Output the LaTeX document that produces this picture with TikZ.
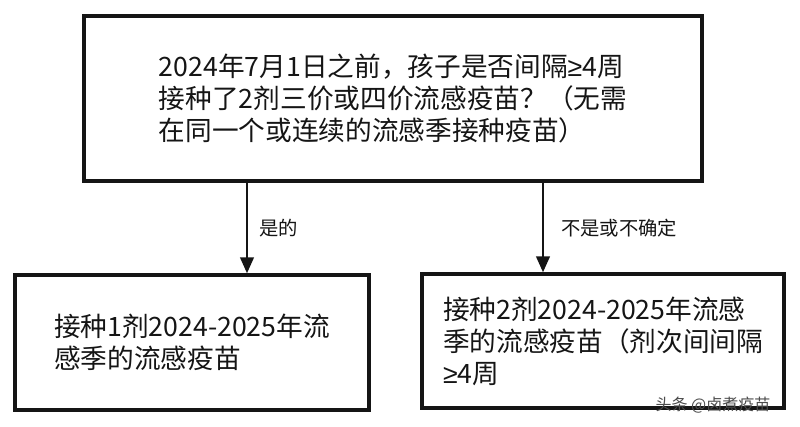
\documentclass[tikz,border=0pt]{standalone}
\usepackage{fontspec}
\setmainfont{Noto Sans CJK SC}
\newfontfamily\symf{Liberation Sans}
\usepackage{xcolor}
\usepackage{tikz}
\usetikzlibrary{arrows.meta,positioning,calc}
\definecolor{inkgray}{HTML}{151515}
\newcommand{\atleast}{{\symf ≥}}

\begin{document}
\begin{tikzpicture}[
  x=0.75pt, y=-0.75pt,
  box/.style={
    draw=inkgray,
    line width=2.4pt,
    fill=white,
    align=left,
    inner sep=0pt,
    font=\fontsize{20pt}{24pt}\selectfont,
    text=inkgray
  },
  arr/.style={-{Triangle[length=12pt, width=10pt]}, line width=2.2pt, draw=inkgray},
  lbl/.style={anchor=west, inner sep=0pt, font=\fontsize{14.5pt}{17pt}\selectfont, text=inkgray}
]
\useasboundingbox (0,0) rectangle (800,427);

\node[box, minimum width=618*0.75pt, minimum height=165*0.75pt] (ask) at (393, 98.5) {
  2024年7月1日之前，孩子是否间隔\atleast4周\\
  接种了2剂三价或四价流感疫苗？（无需\\
  在同一个或连续的流感季接种疫苗）
};

\node[box, minimum width=354*0.75pt, minimum height=135*0.75pt] (one) at (192, 342.5) {
  接种1剂2024-2025年流\\
  感季的流感疫苗
};

\node[box, minimum width=362*0.75pt, minimum height=134*0.75pt] (two) at (603, 341) {
  接种2剂2024-2025年流感\\
  季的流感疫苗（剂次间间隔\\
  \atleast4周
};

\coordinate (yx) at (247, 0);
\coordinate (nx) at (543, 0);

\draw[arr] (ask.south -| yx) -- (one.north -| yx);
\draw[arr] (ask.south -| nx) -- (two.north -| nx);

\node[lbl] (yes) at (259, 228) {是的};
\node[lbl] (no) at (561, 228) {不是或不确定};

% watermark
\node[inner sep=0pt, font=\fontsize{12pt}{14pt}\selectfont, text=black!70] (mark) at (713, 405) {头条 @卤煮疫苗};

\end{tikzpicture}
\end{document}
